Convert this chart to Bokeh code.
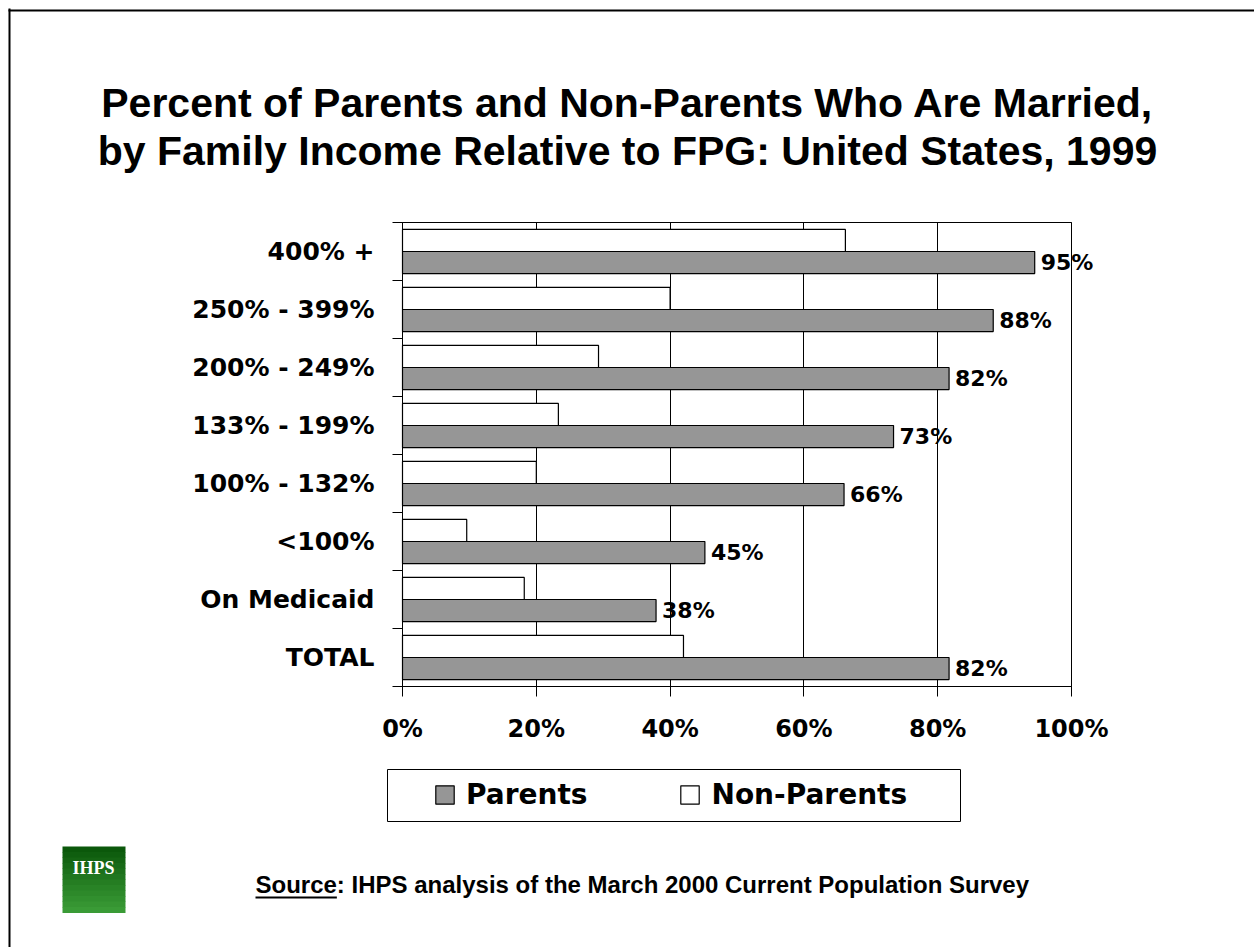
from bokeh.plotting import figure
from bokeh.models import (ColumnDataSource, FixedTicker, Label, LabelSet, Legend,
                          LegendItem, BoxAnnotation, Range1d)
from bokeh.core.properties import value
from bokeh.embed import file_html
from bokeh.resources import INLINE

# ---------------- data ----------------
categories = ["TOTAL", "On Medicaid", "<100%", "100% - 132%", "133% - 199%",
              "200% - 249%", "250% - 399%", "400% +"]
parents = [81.7, 37.9, 45.2, 66.0, 73.4, 81.7, 88.3, 94.5]
non_parents = [42, 18.2, 9.6, 20, 23.3, 29.3, 40, 66.2]
parent_labels = ["82%", "38%", "45%", "66%", "73%", "82%", "88%", "95%"]
x_ticks = [0, 20, 40, 60, 80, 100]
x_tick_labels = ["0%", "20%", "40%", "60%", "80%", "100%"]

title_lines = ["Percent of Parents and Non-Parents Who Are Married,",
               "by Family Income Relative to FPG: United States, 1999"]
source_text = "Source:  IHPS analysis of the March 2000 Current Population Survey"

# ---------------- layout (canvas pixels) ----------------
W, H = 1254, 947
FL, FR, FT, FB = 402, 1071, 222, 686   # plot-area edges
N = len(categories)


def dx(px):
    return (px - FL) / (FR - FL) * 100.0


def dy(py):
    return (FB - py) / (FB - FT) * N


CHART_FONT = "DejaVu Sans"
TEXT_FONT = "Liberation Sans"

p = figure(width=W, height=H, x_range=Range1d(dx(0), dx(W)), y_range=Range1d(dy(H), dy(0)),
           output_backend="svg", toolbar_location=None,
           min_border_left=0, min_border_right=0, min_border_top=0, min_border_bottom=0)
p.background_fill_color = "white"
p.border_fill_color = "white"
p.outline_line_alpha = 0

centers = [i + 0.5 for i in range(N)]
BAR_H = 0.38
OFF = 0.19
src = ColumnDataSource(dict(
    cat=categories, parents=parents, non_parents=non_parents, lab=parent_labels,
    y_p=[c - OFF for c in centers], y_n=[c + OFF for c in centers]))

rn = p.hbar(y="y_n", left=0, right="non_parents", height=BAR_H, source=src,
            fill_color="white", line_color="black", line_width=1.2)
rp = p.hbar(y="y_p", left=0, right="parents", height=BAR_H, source=src,
            fill_color="#969696", line_color="black", line_width=1.2)

# axes (fixed at the plot-area edges)
xa = p.xaxis[0]
xa.fixed_location = 0
xa.bounds = (0, 100)
xa.ticker = FixedTicker(ticks=x_ticks, minor_ticks=[])
xa.major_label_overrides = {t: l for t, l in zip(x_ticks, x_tick_labels)}
xa.major_tick_out = 10
xa.major_tick_in = 0
xa.minor_tick_out = 0
xa.minor_tick_in = 0
xa.major_label_standoff = 18
ya = p.yaxis[0]
ya.fixed_location = 0
ya.bounds = (0, N)
ya.ticker = FixedTicker(ticks=centers, minor_ticks=list(range(N + 1)))
ya.major_label_overrides = {c: l for c, l in zip(centers, categories)}
ya.major_tick_out = 0
ya.major_tick_in = 0
ya.minor_tick_out = 10
ya.minor_tick_in = 0
ya.major_label_standoff = 18
for ax in (xa, ya):
    ax.axis_line_color = "black"
    ax.axis_line_width = 1
    ax.major_tick_line_color = "black"
    ax.minor_tick_line_color = "black"
    ax.major_label_text_font = CHART_FONT
    ax.major_label_text_font_style = "bold"
    ax.major_label_text_color = "black"
xa.major_label_text_font_size = "24px"
ya.major_label_text_font_size = "25px"

p.ygrid.visible = False
p.xgrid.ticker = FixedTicker(ticks=x_ticks, minor_ticks=[])
p.xgrid.grid_line_color = "black"
p.xgrid.grid_line_alpha = 1
p.xgrid.grid_line_width = 1
p.xgrid.bounds = (0, 100)
p.xgrid.cross_bounds = (0, N)

# plot-area border
p.add_layout(BoxAnnotation(left=0, right=100, bottom=0, top=N, fill_alpha=0,
                           line_color="black", line_width=1, line_alpha=1))

# value labels
p.add_layout(LabelSet(x="parents", y="y_p", text="lab", source=src, x_offset=6,
                      text_baseline="middle", text_font=value(CHART_FONT),
                      text_font_style="bold", text_font_size="22px",
                      text_color="black"))

# title
for line, py in zip(title_lines, [102, 150]):
    p.add_layout(Label(x=dx(627), y=dy(py), text=line, text_align="center",
                       text_baseline="middle", text_font=TEXT_FONT,
                       text_font_style="bold", text_font_size="41px",
                       text_color="black"))

# legend box + legend
p.add_layout(BoxAnnotation(left=dx(387), right=dx(960), top=dy(769), bottom=dy(821),
                           fill_color="white", fill_alpha=1, line_color="black",
                           line_width=1, line_alpha=1))
legend = Legend(items=[LegendItem(label="Parents", renderers=[rp]),
                       LegendItem(label="Non-Parents", renderers=[rn])],
                orientation="horizontal", location=(433, H - 811),
                padding=0, margin=0, spacing=91, label_standoff=10,
                glyph_width=23, glyph_height=23,
                border_line_alpha=0, background_fill_alpha=0,
                label_text_font=CHART_FONT, label_text_font_style="bold",
                label_text_font_size="28px", label_text_color="black")
p.add_layout(legend)

# page border (left & top)
p.add_layout(BoxAnnotation(left=dx(8), right=dx(10), top=dy(8), bottom=dy(H + 5),
                           fill_color="black", fill_alpha=1, line_alpha=0))
p.add_layout(BoxAnnotation(left=dx(8), right=dx(W + 5), top=dy(9), bottom=dy(11),
                           fill_color="black", fill_alpha=1, line_alpha=0))

# logo (green gradient square)
logo_top, logo_bot = 846, 912
steps = 12
c0 = (11, 88, 11)
c1 = (58, 155, 54)
for i in range(steps):
    t = i / (steps - 1)
    col = "#%02x%02x%02x" % tuple(int(round(a + (b - a) * t)) for a, b in zip(c0, c1))
    y0 = logo_top + (logo_bot - logo_top) * i / steps
    y1 = logo_top + (logo_bot - logo_top) * (i + 1) / steps
    p.add_layout(BoxAnnotation(left=dx(62), right=dx(125), top=dy(y0), bottom=dy(y1 + 0.6),
                               fill_color=col, fill_alpha=1, line_alpha=0))
p.add_layout(Label(x=dx(93), y=dy(867), text="IHPS", text_align="center",
                   text_baseline="middle", text_font="Liberation Serif",
                   text_font_style="bold", text_font_size="18px", text_color="white"))

# source line
SRC_SIZE = 24
SRC_Y = 884
p.add_layout(Label(x=dx(255), y=dy(SRC_Y), text=source_text, text_align="left",
                   text_baseline="middle", text_font=TEXT_FONT,
                   text_font_style="bold", text_font_size=f"{SRC_SIZE}px", text_color="black"))
p.add_layout(BoxAnnotation(left=dx(255), right=dx(255 + 3.39 * SRC_SIZE),
                           top=dy(SRC_Y + 0.5 * SRC_SIZE), bottom=dy(SRC_Y + 0.5 * SRC_SIZE + 2),
                           fill_color="black", fill_alpha=1, line_alpha=0))

open("out.html", "w").write(file_html(p, INLINE))
